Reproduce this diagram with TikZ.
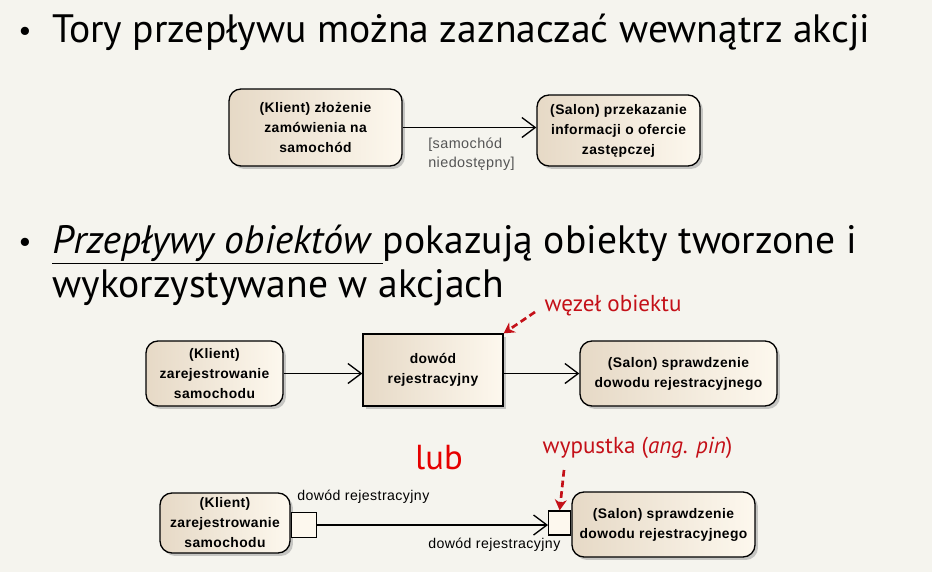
\documentclass[tikz,border=0pt]{standalone}
\usepackage{fontspec}
\setmainfont{Liberation Sans}
\newfontfamily\slidefont{PT Sans}
\newfontfamily\diafont{Liberation Sans}[LetterSpace=3]
\usetikzlibrary{arrows.meta,shadows,calc}
\definecolor{bgcol}{RGB}{245,244,238}
\definecolor{boxtan}{RGB}{230,217,198}
\definecolor{boxcream}{RGB}{253,248,238}
\definecolor{noteRed}{RGB}{196,16,24}
\definecolor{lubRed}{RGB}{230,0,0}
\definecolor{guardgray}{RGB}{85,85,85}
\tikzset{
  boxbase/.style={draw=black, line width=1pt, left color=boxtan, right color=boxcream,
    drop shadow={shadow xshift=2.2pt, shadow yshift=-2.2pt, fill=black!35, opacity=0.6},
    align=center, inner sep=0pt, font=\diafont\bfseries\fontsize{10.4}{15}\selectfont},
  action/.style={boxbase, rounded corners=9pt},
  objnode/.style={boxbase},
  pin/.style={draw=black, line width=1pt, fill=boxcream, inner sep=0pt},
  flow/.style={line width=1pt, -{Straight Barb[length=10pt, width=15pt, line width=1pt]}},
  note/.style={noteRed, font=\slidefont\fontsize{17.3}{19}\selectfont},
  callout/.style={noteRed, line width=2pt, dash pattern=on 5pt off 3pt, -{Stealth[length=8pt, width=9pt]}},
  slidetext/.style={anchor=base west, inner sep=0pt, font=\slidefont\fontsize{29.7}{32}\selectfont},
  bullet/.style={anchor=base west, inner sep=0pt, font=\slidefont\fontsize{22}{24}\selectfont},
  flowlabel/.style={anchor=west, inner sep=0pt, align=left, font=\diafont\fontsize{10.6}{14.5}\selectfont}
}
\begin{document}
\begin{tikzpicture}[x=0.75pt, y=-0.75pt]
  \fill[bgcol] (0,0) rectangle (932,572);
  \useasboundingbox (0,0) rectangle (932,572);

  % first bullet
  \node[bullet] (b1) at (18,40) {\textbullet};
  \node[slidetext] (t1) at (52,42) {Tory przepływu można zaznaczać wewnątrz akcji};

  % control flow with a guard
  \node[action, minimum width=129.75pt, minimum height=57.75pt] (k1) at (315.5,127.5)
    {(Klient) złożenie\\zamówienia na\\samochód};
  \node[action, minimum width=122.25pt, minimum height=53.25pt] (s1) at (618.5,130.5)
    {(Salon) przekazanie\\informacji o ofercie\\zastępczej};
  \draw[flow] (k1.east) -- (k1.east -| s1.west);
  \node[flowlabel, text=guardgray, font=\diafont\fontsize{10.8}{14.5}\selectfont] (g1) at (428,154) {[samochód\\niedostępny]};

  % second bullet
  \node[bullet] (b2) at (18,251) {\textbullet};
  \node[slidetext] (t2) at (52,253) {\underline{\textit{Przepływy obiektów}\ }pokazują obiekty tworzone i};
  \node[slidetext] (t3) at (52,297) {wykorzystywane w akcjach};

  % object node between two actions
  \node[action, minimum width=102.75pt, minimum height=48.75pt] (k2) at (214.5,373.5)
    {(Klient)\\zarejestrowanie\\samochodu};
  \node[objnode, minimum width=105pt, minimum height=54pt] (obj) at (433,370)
    {dowód\\rejestracyjny};
  \node[action, minimum width=147.75pt, minimum height=48.75pt] (s2) at (678.5,373.5)
    {(Salon) sprawdzenie\\dowodu rejestracyjnego};
  \draw[flow] (k2.east) -- (k2.east -| obj.west);
  \draw[flow] (k2.east -| obj.east) -- (k2.east -| s2.west);

  \node[note, anchor=west] (n1) at (540,306) {węzeł obiektu};
  \coordinate (n1a) at (535,312);
  \draw[callout] (n1a) -- (obj.north east);

  % alternative notation with pins
  \node[lubRed, font=\slidefont\fontsize{26}{28}\selectfont] (lub) at (439,458) {lub};
  \node[note, anchor=west] (n2) at (538,448) {wypustka (\textit{ang. pin})};

  \node[action, minimum width=97.5pt, minimum height=45pt] (k3) at (225,523)
    {(Klient)\\zarejestrowanie\\samochodu};
  \node[action, minimum width=137.25pt, minimum height=48.75pt] (s3) at (663.5,524.5)
    {(Salon) sprawdzenie\\dowodu rejestracyjnego};
  \node[pin, minimum width=18.75pt, minimum height=18.75pt, anchor=west] (pl) at (k3.east |- 0,525) {};
  \node[pin, minimum width=16.5pt, minimum height=18pt, anchor=east] (pr) at (s3.west |- 0,523) {};
  \draw[flow] (pl.east) -- (pl.east -| pr.west);
  \node[flowlabel] (lo) at (297,497) {dowód rejestracyjny};
  \node[flowlabel] (li) at (428,545) {dowód rejestracyjny};

  \coordinate (n2a) at (564,470);
  \draw[callout] (n2a) -- (pr.north);
\end{tikzpicture}
\end{document}
